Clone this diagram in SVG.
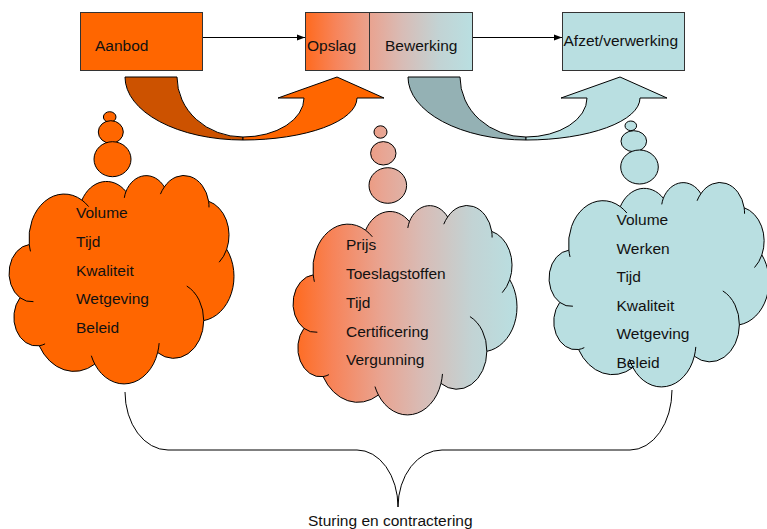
<svg xmlns="http://www.w3.org/2000/svg" width="767" height="529" viewBox="0 0 767 529">
<style>
text{font-family:"Liberation Sans",Arial,sans-serif;font-size:15.5px;fill:#111}
.box{stroke:#333;stroke-width:1}
.ln{fill:none;stroke:#000;stroke-width:1}
.cl{stroke:#000;stroke-width:1}
.ia{fill:none;stroke:#000;stroke-width:1}
.bub{stroke:#000;stroke-width:1}
.ca{stroke:#000;stroke-width:1;stroke-linejoin:miter}
</style>
<defs>
<linearGradient id="gMix" x1="0" y1="0" x2="1" y2="0">
<stop offset="0" stop-color="#FF6A1E"/>
<stop offset="0.18" stop-color="#F7845A"/>
<stop offset="0.4" stop-color="#E8A593"/>
<stop offset="0.58" stop-color="#D8BCB6"/>
<stop offset="0.8" stop-color="#C2D3D4"/>
<stop offset="1" stop-color="#B9DFE1"/>
</linearGradient>
<linearGradient id="gBub" gradientUnits="userSpaceOnUse" x1="293" y1="0" x2="517" y2="0">
<stop offset="0" stop-color="#FF6A1E"/>
<stop offset="0.18" stop-color="#F7845A"/>
<stop offset="0.4" stop-color="#E8A593"/>
<stop offset="0.58" stop-color="#D8BCB6"/>
<stop offset="0.8" stop-color="#C2D3D4"/>
<stop offset="1" stop-color="#B9DFE1"/>
</linearGradient>
<path id="cloud" vector-effect="non-scaling-stroke" d="M3900,14370 A6753,9190 0 0 1 14000,5192 A5333,7267 0 0 1 22451,3422 A4365,5945 0 0 1 29828,2471 A4857,6595 0 0 1 38324,5426 A5333,7273 0 0 1 41798,15354 A6775,9220 0 0 1 37384,30097 A5785,7867 0 0 1 28536,36707 A6752,9215 0 0 1 16478,39090 A7720,10543 0 0 1 5803,35296 A4360,5918 0 0 1 2111,25374 A4345,5945 0 0 1 3900,14370 Z"/>
<path id="inner" vector-effect="non-scaling-stroke" d="M4693,26177 A4345,5945 0 0 1 2111,25374 M6928,34899 A4360,5918 0 0 1 5803,35296 M16478,39090 A6752,9215 0 0 1 15810,37350 M28827,34751 A6752,9215 0 0 1 28536,36707 M34129,22954 A5785,7867 0 0 1 37384,30097 M41798,15354 A5333,7273 0 0 1 40350,18030 M38324,5426 A4857,6595 0 0 1 38400,6690 M29078,3952 A4857,6595 0 0 1 29828,2471 M22141,4720 A4365,5945 0 0 1 22451,3422 M14000,5192 A6753,9190 0 0 1 15300,6540 M4127,15789 A6753,9190 0 0 1 3900,14370"/>
<marker id="arr" markerWidth="8" markerHeight="8" refX="8" refY="4" orient="auto" markerUnits="userSpaceOnUse">
<path d="M0,1 L8,4 L0,7 Z" fill="#000"/>
</marker>
</defs>

<g id="connectors">
<line class="ln" x1="203" y1="37.5" x2="305" y2="37.5" marker-end="url(#arr)"/>
<line class="ln" x1="473" y1="37.5" x2="562" y2="37.5" marker-end="url(#arr)"/>
<path id="brace" class="ln" d="M125,392 A43,58 0 0 0 168,450 L357,450 A41,57 0 0 1 398,507 A44,57 0 0 1 442,450 L630,450 A42,60 0 0 0 672,390"/>
</g>

<g id="curved-arrow-1">
<path class="ca" fill="#CC5200" d="M125,77 L177,77 A66,60 0 0 0 243,137 L243,140 A118,63 0 0 1 125,77 Z"/>
<path class="ca" fill="#FF6600" d="M243,140 A114,42 0 0 0 357,98 L384,98 L337,77 L278,98 L304,98 A61,39 0 0 1 243,137 Z"/>
</g>
<g id="curved-arrow-2">
<path class="ca" fill="#94B1B4" d="M408,77 L460,77 A66,60 0 0 0 526,137 L526,140 A118,63 0 0 1 408,77 Z"/>
<path class="ca" fill="#B9DFE1" d="M526,140 A114,42 0 0 0 640,98 L667,98 L620,77 L561,98 L587,98 A61,39 0 0 1 526,137 Z"/>
</g>

<g id="aanbod">
<rect class="box" x="80.5" y="12.5" width="122" height="58" fill="#FF6600"/>
<text x="95" y="51">Aanbod</text>
</g>
<g id="opslag-bewerking">
<rect class="box" x="305.5" y="12.5" width="167" height="58" fill="url(#gMix)"/>
<line class="box" x1="369.5" y1="12.5" x2="369.5" y2="70.5"/>
<text x="307" y="51">Opslag</text>
<text x="385" y="51">Bewerking</text>
</g>
<g id="afzet">
<rect class="box" x="562.5" y="12.5" width="122" height="58" fill="#B9DFE1"/>
<text x="563.5" y="46">Afzet/verwerking</text>
</g>

<g id="cloud-aanbod">
<ellipse class="bub" cx="109.7" cy="117" rx="6.3" ry="5.3" fill="#FF6600"/>
<ellipse class="bub" cx="110.8" cy="132" rx="12.5" ry="11.3" fill="#FF6600"/>
<ellipse class="bub" cx="112.5" cy="159.2" rx="18.5" ry="17.5" fill="#FF6600"/>
<g transform="translate(9,175) scale(0.0052083,0.0048380)">
<use href="#cloud" class="cl" fill="#FF6600"/>
<use href="#inner" class="ia"/>
</g>
<text x="76" y="218">Volume</text>
<text x="76" y="247">Tijd</text>
<text x="76" y="275.5">Kwaliteit</text>
<text x="76" y="304">Wetgeving</text>
<text x="76" y="332.5">Beleid</text>
</g>

<g id="cloud-opslag">
<ellipse class="bub" cx="380.5" cy="132" rx="6.5" ry="6.2" fill="url(#gBub)"/>
<ellipse class="bub" cx="383.3" cy="153.3" rx="12.7" ry="11.7" fill="url(#gBub)"/>
<ellipse class="bub" cx="387.8" cy="185.5" rx="18.8" ry="17.8" fill="url(#gBub)"/>
<g transform="translate(293,205) scale(0.0051852,0.0048611)">
<use href="#cloud" class="cl" fill="url(#gMix)"/>
<use href="#inner" class="ia"/>
</g>
<text x="346" y="250">Prijs</text>
<text x="346" y="279">Toeslagstoffen</text>
<text x="346" y="308">Tijd</text>
<text x="346" y="336.5">Certificering</text>
<text x="346" y="365">Vergunning</text>
</g>

<g id="cloud-afzet">
<ellipse class="bub" cx="630.8" cy="125.8" rx="5.8" ry="4.8" fill="#B9DFE1"/>
<ellipse class="bub" cx="633.8" cy="141.2" rx="12.8" ry="10.5" fill="#B9DFE1"/>
<ellipse class="bub" cx="639.5" cy="167" rx="18.8" ry="17" fill="#B9DFE1"/>
<g transform="translate(549,182) scale(0.0050926,0.0047454)">
<use href="#cloud" class="cl" fill="#B9DFE1"/>
<use href="#inner" class="ia"/>
</g>
<text x="616.5" y="225">Volume</text>
<text x="616.5" y="253.5">Werken</text>
<text x="616.5" y="282">Tijd</text>
<text x="616.5" y="310.5">Kwaliteit</text>
<text x="616.5" y="339">Wetgeving</text>
<text x="616.5" y="367.5">Beleid</text>
</g>

<g id="label-sturing">
<text x="308" y="526">Sturing en contractering</text>
</g>
</svg>
